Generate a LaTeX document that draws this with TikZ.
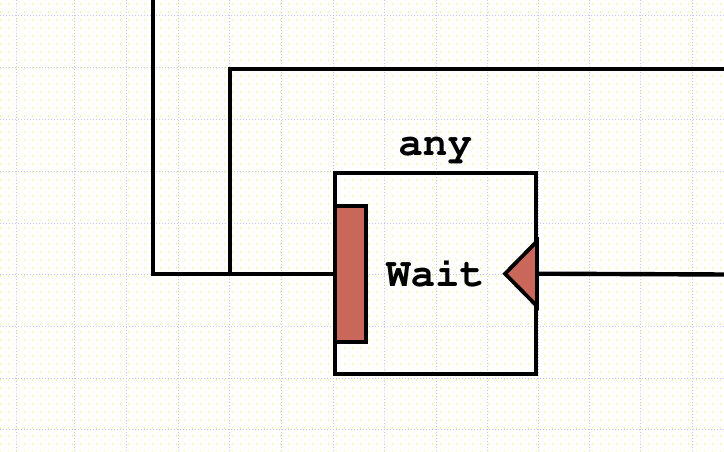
\documentclass[tikz,border=0pt]{standalone}
\usepackage[T1]{fontenc}
\usepackage{courier}
\usetikzlibrary{positioning,calc}
\definecolor{portred}{RGB}{201,104,90}
\definecolor{gridblue}{RGB}{200,200,240}
\definecolor{gridyellow}{RGB}{250,245,150}
\tikzset{
	wire/.style={line width=4.4pt,color=black},
	block/.style={draw,line width=3.7pt,minimum width=201pt,minimum height=201pt,inner sep=0pt,font=\ttfamily\bfseries\fontsize{41}{41}\selectfont},
	inport/.style={draw,fill=portred,line width=3.8pt,minimum width=31pt,minimum height=136pt,inner sep=0pt},
	outport/.style={draw,fill=portred,line width=3.8pt,line join=miter},
	title/.style={font=\ttfamily\bfseries\fontsize{41}{41}\selectfont,inner sep=0pt}
}
\begin{document}
\begin{tikzpicture}[x=1pt,y=-1pt]
	\useasboundingbox (0,0) rectangle (724,452);
	\fill[white] (0,0) rectangle (724,452);
	% background grid
	\foreach \y in {4,12,...,452}{
		\draw [gridyellow,line width=1.2pt,dash pattern=on 1.2pt off 6.8pt] (0,\y) -- (724,\y);
	}
	\foreach \x in {16,74,126,178,229,281,333,384,436,487,538,589,640,692}{
		\draw [gridblue,line width=0.9pt,dash pattern=on 1pt off 2pt] (\x,0) -- (\x,452);
	}
	\foreach \y in {15,67,119,171,223,274,326,378,429}{
		\draw [gridblue,line width=0.9pt,dash pattern=on 1pt off 2pt] (0,\y) -- (724,\y);
	}
	% block and ports
	\node [block] at (435.2,273.7) (wait) {Wait};
	\node [title,above=10pt of wait.north] (any) {any};
	\node [inport,anchor=west] at ($(wait.west)+(0.3,0)$) (in) {};
	\draw [outport] ($(wait.east)+(-0.5,-32.5)$) coordinate (out1) -- ++(-32,32.5) coordinate (out) -- ++(32,32.5) -- cycle;
	% wires
	\coordinate (top) at (152.7,0);
	\coordinate (split) at (230,274.5);
	\coordinate (east1) at (726,68.8);
	\coordinate (east2) at (726,274.5);
	\draw [wire] (top) |- (in.west);
	\draw [wire] (split) |- (east1);
	\draw [wire] (wait.east) -- (east2);
\end{tikzpicture}
\end{document}
